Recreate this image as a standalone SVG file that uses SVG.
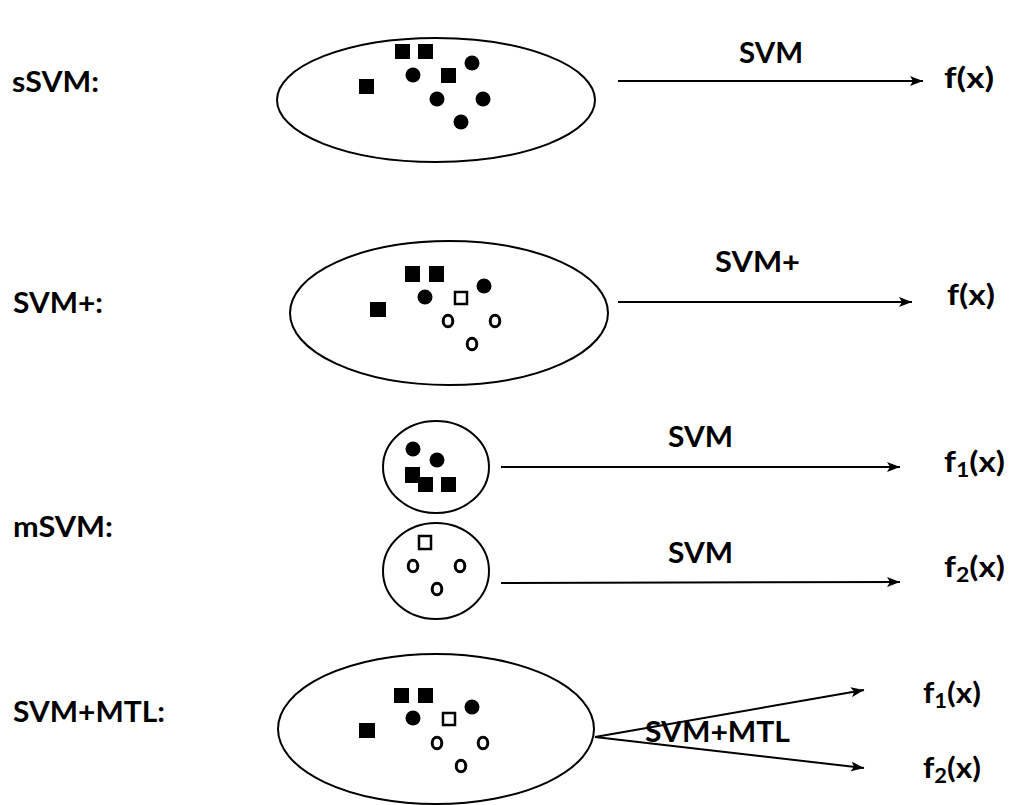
<svg xmlns="http://www.w3.org/2000/svg" width="1013" height="805" viewBox="0 0 1013 805">
  <style>
    .bg { fill: #ffffff; }
    .set { fill: #ffffff; stroke: #000000; stroke-width: 2; }
    .sq { fill: #000000; }
    .osq { fill: #ffffff; stroke: #000000; stroke-width: 2.5; }
    .dot { fill: #000000; }
    .odot { fill: #ffffff; stroke: #000000; stroke-width: 3; }
    .edge { stroke: #000000; stroke-width: 2; fill: none; marker-end: url(#head); }
    .lbl { font-family: Lato, "Liberation Sans", sans-serif; font-size: 29px; font-weight: bold; fill: #000000; }
    .sub { font-size: 20px; }
  </style>
  <defs>
    <marker id="head" markerUnits="userSpaceOnUse" markerWidth="14" markerHeight="10" refX="13" refY="5" orient="auto">
      <path d="M0,0 L13,5 L0,10 L3,5 Z" fill="#000000"/>
    </marker>
  </defs>
  <rect class="bg" x="0" y="0" width="1013" height="805"/>

  <!-- row labels -->
  <g id="row-labels">
    <text class="lbl" x="12" y="92" textLength="87" lengthAdjust="spacingAndGlyphs">sSVM:</text>
    <text class="lbl" x="13" y="313" textLength="90" lengthAdjust="spacingAndGlyphs">SVM+:</text>
    <text class="lbl" x="13" y="537" textLength="100" lengthAdjust="spacingAndGlyphs">mSVM:</text>
    <text class="lbl" x="13" y="722" textLength="152" lengthAdjust="spacingAndGlyphs">SVM+MTL:</text>
  </g>

  <!-- single SVM: one data set -->
  <g id="set-ssvm">
    <ellipse class="set" cx="436" cy="100" rx="159" ry="62"/>
    <rect class="sq" x="395" y="44" width="15" height="15"/>
    <rect class="sq" x="418" y="44" width="15" height="15"/>
    <rect class="sq" x="441" y="68" width="15" height="15"/>
    <rect class="sq" x="359" y="79" width="15" height="15"/>
    <circle class="dot" cx="472" cy="63" r="7.5"/>
    <circle class="dot" cx="413" cy="75" r="7.5"/>
    <circle class="dot" cx="437" cy="99" r="7.5"/>
    <circle class="dot" cx="483" cy="99" r="7.5"/>
    <circle class="dot" cx="461" cy="122" r="7.5"/>
  </g>

  <!-- SVM+: data set with privileged samples -->
  <g id="set-svmplus">
    <ellipse class="set" cx="449" cy="313" rx="159" ry="72"/>
    <rect class="sq" x="405" y="266" width="15" height="16"/>
    <rect class="sq" x="429" y="266" width="15" height="16"/>
    <rect class="sq" x="370" y="302" width="16" height="15"/>
    <rect class="osq" x="455" y="292" width="12" height="12"/>
    <circle class="dot" cx="484" cy="286" r="7.5"/>
    <circle class="dot" cx="425" cy="297" r="7.5"/>
    <ellipse class="odot" cx="448" cy="321" rx="4.8" ry="5.8"/>
    <ellipse class="odot" cx="495" cy="321" rx="4.8" ry="5.8"/>
    <ellipse class="odot" cx="472" cy="344" rx="4.8" ry="5.8"/>
  </g>

  <!-- mSVM: first group -->
  <g id="set-msvm-1">
    <ellipse class="set" cx="436" cy="467" rx="53" ry="46"/>
    <circle class="dot" cx="413" cy="449" r="7.5"/>
    <circle class="dot" cx="437" cy="460" r="7.5"/>
    <rect class="sq" x="405" y="467" width="15" height="16"/>
    <rect class="sq" x="418" y="477" width="15" height="15"/>
    <rect class="sq" x="441" y="477" width="15" height="15"/>
  </g>

  <!-- mSVM: second group -->
  <g id="set-msvm-2">
    <ellipse class="set" cx="436" cy="571" rx="53" ry="48"/>
    <rect class="osq" x="419" y="536" width="12" height="13"/>
    <ellipse class="odot" cx="413" cy="566" rx="4.8" ry="5.8"/>
    <ellipse class="odot" cx="460" cy="566" rx="4.8" ry="5.8"/>
    <ellipse class="odot" cx="437" cy="589" rx="4.8" ry="5.8"/>
  </g>

  <!-- SVM+MTL: pooled data set -->
  <g id="set-svmmtl">
    <ellipse class="set" cx="436" cy="729" rx="158" ry="75"/>
    <rect class="sq" x="394" y="688" width="15" height="15"/>
    <rect class="sq" x="418" y="688" width="15" height="15"/>
    <rect class="sq" x="359" y="723" width="16" height="15"/>
    <rect class="osq" x="443" y="713" width="12" height="12"/>
    <circle class="dot" cx="472" cy="707" r="7.5"/>
    <circle class="dot" cx="413" cy="718" r="7.5"/>
    <ellipse class="odot" cx="437" cy="743" rx="4.8" ry="5.8"/>
    <ellipse class="odot" cx="483" cy="743" rx="4.8" ry="5.8"/>
    <ellipse class="odot" cx="461" cy="766" rx="4.8" ry="5.8"/>
  </g>

  <!-- learned functions -->
  <g id="out-ssvm">
    <text class="lbl" x="944" y="88" textLength="50" lengthAdjust="spacingAndGlyphs">f(x)</text>
  </g>
  <g id="out-svmplus">
    <text class="lbl" x="947" y="305" textLength="48" lengthAdjust="spacingAndGlyphs">f(x)</text>
  </g>
  <g id="out-msvm-1">
    <text class="lbl" x="944" y="472" textLength="61" lengthAdjust="spacingAndGlyphs">f<tspan class="sub" dy="5">1</tspan><tspan dy="-5">(x)</tspan></text>
  </g>
  <g id="out-msvm-2">
    <text class="lbl" x="944" y="577" textLength="61" lengthAdjust="spacingAndGlyphs">f<tspan class="sub" dy="5">2</tspan><tspan dy="-5">(x)</tspan></text>
  </g>
  <g id="out-mtl-1">
    <text class="lbl" x="923" y="703" textLength="58" lengthAdjust="spacingAndGlyphs">f<tspan class="sub" dy="5">1</tspan><tspan dy="-5">(x)</tspan></text>
  </g>
  <g id="out-mtl-2">
    <text class="lbl" x="923" y="778" textLength="58" lengthAdjust="spacingAndGlyphs">f<tspan class="sub" dy="5">2</tspan><tspan dy="-5">(x)</tspan></text>
  </g>

  <!-- training connectors -->
  <g id="connectors">
    <line class="edge" x1="618" y1="81" x2="923" y2="81"/>
    <text class="lbl" x="739" y="63" textLength="64" lengthAdjust="spacingAndGlyphs">SVM</text>

    <line class="edge" x1="618" y1="302" x2="912" y2="302"/>
    <text class="lbl" x="715" y="272" textLength="85" lengthAdjust="spacingAndGlyphs">SVM+</text>

    <line class="edge" x1="501" y1="467" x2="900" y2="467"/>
    <text class="lbl" x="668" y="447" textLength="65" lengthAdjust="spacingAndGlyphs">SVM</text>

    <line class="edge" x1="501" y1="583" x2="900" y2="582"/>
    <text class="lbl" x="668" y="563" textLength="65" lengthAdjust="spacingAndGlyphs">SVM</text>

    <line class="edge" x1="595" y1="737" x2="864" y2="690"/>
    <line class="edge" x1="595" y1="737" x2="864" y2="768"/>
    <text class="lbl" x="645" y="742" textLength="145" lengthAdjust="spacingAndGlyphs">SVM+MTL</text>
  </g>
</svg>
